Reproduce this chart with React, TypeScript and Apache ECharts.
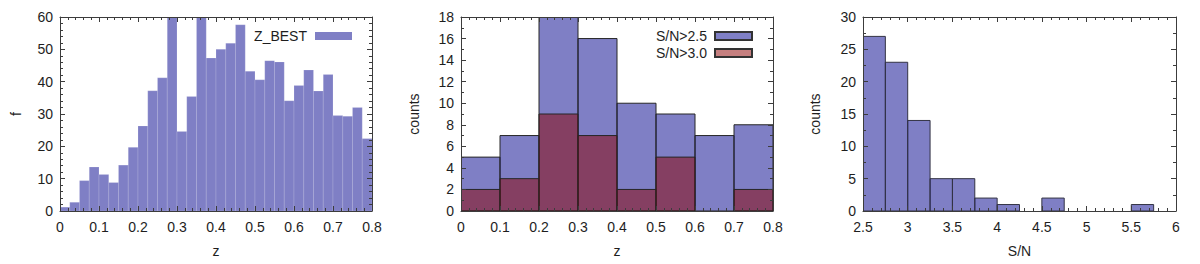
import React, { useEffect, useRef } from "react";
import * as echarts from "echarts";

// ---- data ----
const zBestBinWidth = 0.025;
const zBestCounts = [1.2, 2.7, 9.4, 13.6, 11.3, 8.8, 14.2, 19.7, 26.3, 37.2, 41.2, 60, 24.6, 35.4, 60, 47.3, 50, 51.9, 57.6, 43.2, 40.6, 46.5, 46.1, 34.1, 38.8, 43.6, 37.1, 42.2, 29.5, 29.3, 32, 22.4];

const zBinWidth = 0.1;
const snGt25Counts = [5, 7, 18, 16, 10, 9, 7, 8];
const snGt30Counts = [2, 3, 9, 7, 2, 5, 0, 2];

const snStart = 2.5;
const snBinWidth = 0.25;
const snCounts = [27, 23, 14, 5, 5, 2, 1, 0, 2, 0, 0, 0, 1, 0];

const zTicks = { min: 0, max: 0.8, interval: 0.1 };
const fTicks = { min: 0, max: 60, interval: 10 };
const countsZTicks = { min: 0, max: 18, interval: 2 };
const snTicks = { min: 2.5, max: 6, interval: 0.5 };
const countsSnTicks = { min: 0, max: 30, interval: 5 };

// ---- styles ----
const FONT = "Liberation Sans, Arial, Helvetica, sans-serif";
const TXT = "#1e1e1e";
const AX = "#3c3c3c";
const BLUE = "rgba(0,0,139,0.5)";
const RED = "rgba(139,0,0,0.5)";

function bins(start: number, width: number, counts: number[]) {
  return counts.map((c, i) => [start + i * width, start + (i + 1) * width, c]);
}

function histRender(fill: string, stroke: string, lw: number) {
  return (params: any, api: any) => {
    const x0 = api.value(0);
    const x1 = api.value(1);
    const y = api.value(2);
    if (!y) return null;
    const p0 = api.coord([x0, y]);
    const p1 = api.coord([x1, 0]);
    return {
      type: "rect",
      shape: { x: p0[0], y: p0[1], width: p1[0] - p0[0], height: p1[1] - p0[1] },
      style: { fill, stroke, lineWidth: lw },
    };
  };
}

function xAxes(gridIndex: number, t: any, name: string, minorSplit: number) {
  const common = {
    type: "value",
    gridIndex,
    min: t.min,
    max: t.max,
    interval: t.interval,
    z: 10,
    splitLine: { show: false },
    axisLine: { show: true, onZero: false, lineStyle: { color: AX, width: 1 } },
    axisTick: { show: true, inside: true, length: 5, lineStyle: { color: AX } },
    minorTick: { show: true, splitNumber: minorSplit, length: 3, lineStyle: { color: AX } },
  };
  return [
    {
      ...common,
      position: "bottom",
      name,
      nameLocation: "middle",
      nameGap: 33,
      nameTextStyle: { fontSize: 14, color: TXT, fontFamily: FONT },
      axisLabel: { show: true, margin: 9, fontSize: 14, color: TXT, fontFamily: FONT },
    },
    { ...common, position: "top", axisLabel: { show: false } },
  ];
}

function yAxes(gridIndex: number, t: any, name: string, minorSplit: number, nameGap: number) {
  const common = {
    type: "value",
    gridIndex,
    min: t.min,
    max: t.max,
    interval: t.interval,
    z: 10,
    splitLine: { show: false },
    axisLine: { show: true, onZero: false, lineStyle: { color: AX, width: 1 } },
    axisTick: { show: true, inside: true, length: 5, lineStyle: { color: AX } },
    minorTick: { show: true, splitNumber: minorSplit, length: 3, lineStyle: { color: AX } },
  };
  return [
    {
      ...common,
      position: "left",
      name,
      nameLocation: "middle",
      nameGap,
      nameTextStyle: { fontSize: 14, color: TXT, fontFamily: FONT },
      axisLabel: { show: true, margin: 7, fontSize: 14, color: TXT, fontFamily: FONT },
    },
    { ...common, position: "right", axisLabel: { show: false } },
  ];
}

export default function App() {
  const ref = useRef<HTMLDivElement>(null);
  useEffect(() => {
    if (!ref.current) return;
    const chart = echarts.init(ref.current, undefined, { renderer: "svg" });
    const legendText = { fontSize: 14, color: TXT, fontFamily: FONT, lineHeight: 14, padding: [0, 3, 0, 0] };
    const option: any = {
      animation: false,
      backgroundColor: "#ffffff",
      textStyle: { fontFamily: FONT },
      grid: [
        { left: 60, top: 17, width: 312, height: 194 },
        { left: 461, top: 17, width: 312, height: 194 },
        { left: 863, top: 17, width: 313, height: 194 },
      ],
      xAxis: [
        ...xAxes(0, zTicks, "z", 5),
        ...xAxes(1, zTicks, "z", 5),
        ...xAxes(2, snTicks, "S/N", 5),
      ],
      yAxis: [
        ...yAxes(0, fTicks, "f", 5, 37),
        ...yAxes(1, countsZTicks, "counts", 2, 40),
        ...yAxes(2, countsSnTicks, "counts", 2, 41),
      ],
      legend: [
        {
          data: ["Z_BEST"],
          right: 843,
          top: 24,
          align: "right",
          icon: "rect",
          itemWidth: 37,
          itemHeight: 8,
          textStyle: legendText,
        },
        {
          data: ["S/N>2.5", "S/N>3.0"],
          right: 442,
          top: 24,
          orient: "vertical",
          align: "right",
          icon: "rect",
          itemWidth: 37,
          itemHeight: 8,
          itemGap: 3,
          textStyle: legendText,
        },
      ],
      series: [
        {
          name: "Z_BEST",
          type: "custom",
          xAxisIndex: 0,
          yAxisIndex: 0,
          clip: true,
          itemStyle: { color: BLUE },
          renderItem: histRender(BLUE, "rgba(255,255,255,0.18)", 0.8),
          encode: { x: [0, 1], y: 2 },
          data: bins(zTicks.min, zBestBinWidth, zBestCounts),
        },
        {
          name: "S/N>2.5",
          type: "custom",
          xAxisIndex: 2,
          yAxisIndex: 2,
          clip: true,
          itemStyle: { color: BLUE, borderColor: "#333", borderWidth: 0.8 },
          renderItem: histRender(BLUE, "#262626", 1),
          encode: { x: [0, 1], y: 2 },
          data: bins(zTicks.min, zBinWidth, snGt25Counts),
        },
        {
          name: "S/N>3.0",
          type: "custom",
          xAxisIndex: 2,
          yAxisIndex: 2,
          clip: true,
          itemStyle: { color: RED, borderColor: "#333", borderWidth: 0.8 },
          renderItem: histRender(RED, "#262626", 1),
          encode: { x: [0, 1], y: 2 },
          data: bins(zTicks.min, zBinWidth, snGt30Counts),
        },
        {
          name: "S/N",
          type: "custom",
          xAxisIndex: 4,
          yAxisIndex: 4,
          clip: true,
          itemStyle: { color: BLUE },
          renderItem: histRender(BLUE, "#333344", 1),
          encode: { x: [0, 1], y: 2 },
          data: bins(snStart, snBinWidth, snCounts),
        },
      ],
    };
    chart.setOption(option);
    return () => chart.dispose();
  }, []);
  return (
    <div
      ref={ref}
      style={{ position: "fixed", left: 0, top: 0, width: 1200, height: 264, background: "#fff" }}
    />
  );
}
